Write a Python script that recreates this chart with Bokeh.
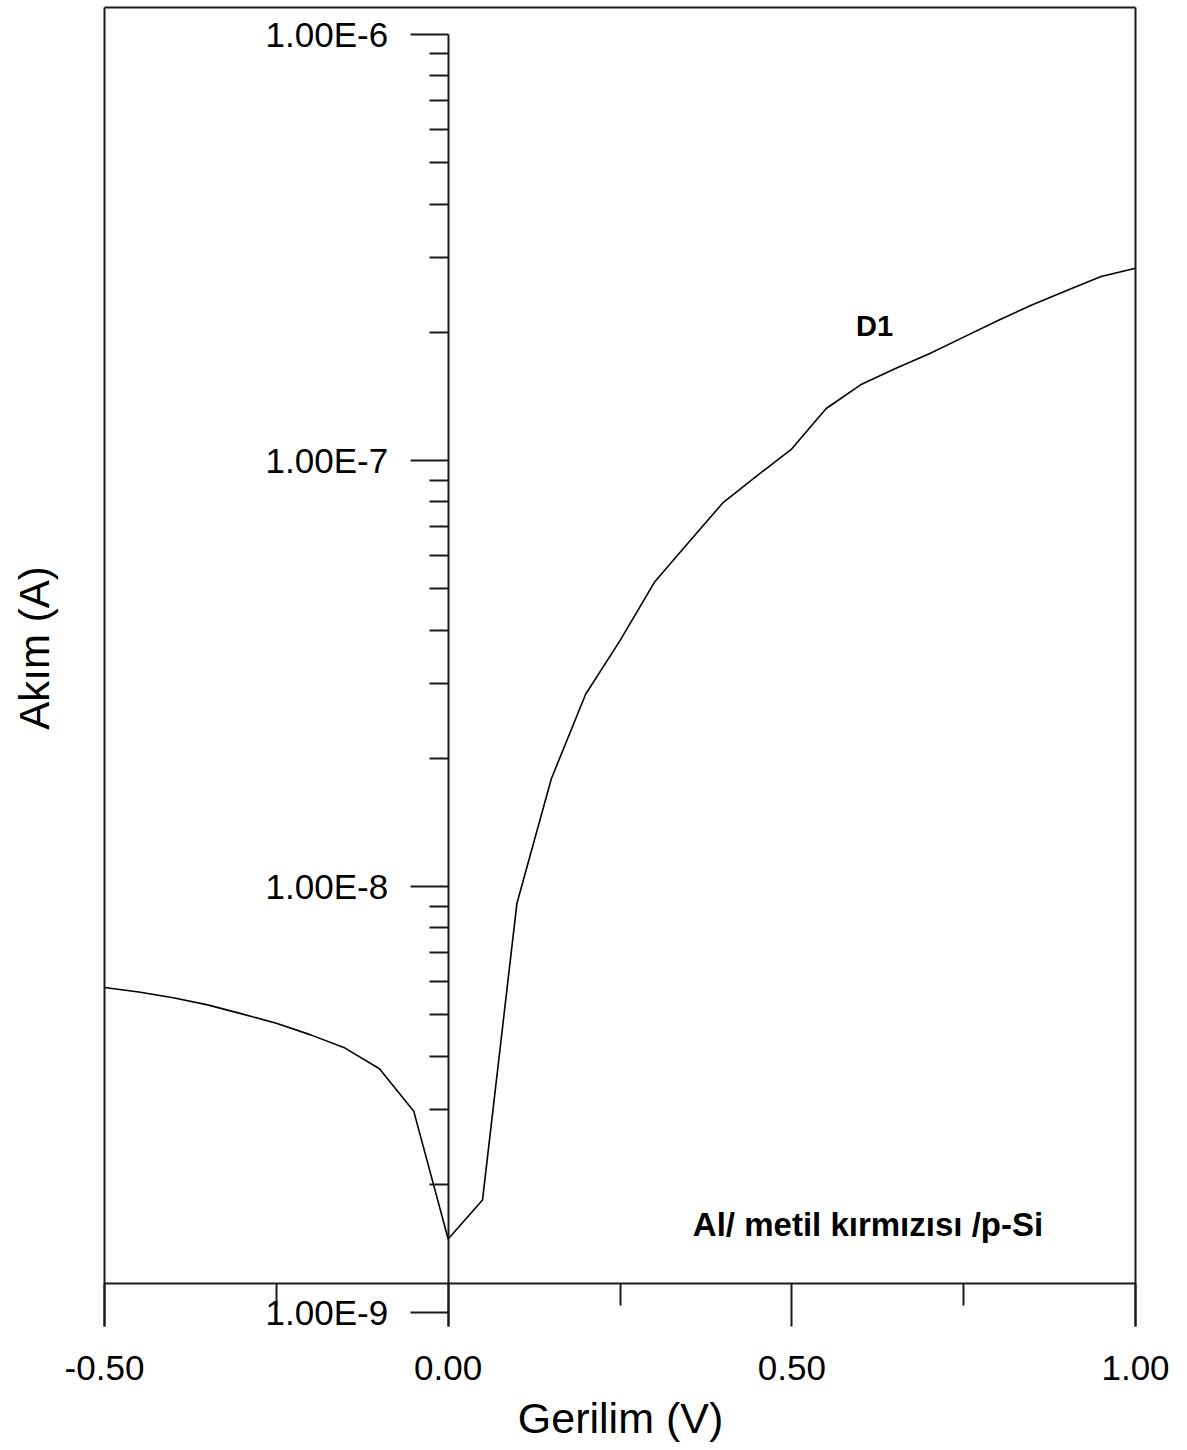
import math
from bokeh.plotting import figure
from bokeh.models import (Range1d, FixedTicker, PrintfTickFormatter, LogScale,
                          CustomJSTickFormatter, Label, LinearAxis, LogAxis)
from bokeh.embed import file_html
from bokeh.resources import INLINE

# ---------------- data ----------------
voltage = [-0.50, -0.45, -0.40, -0.35, -0.30, -0.25, -0.20, -0.15, -0.10, -0.05,
           0.00, 0.05, 0.10, 0.15, 0.20, 0.25, 0.30, 0.35, 0.40, 0.45,
           0.50, 0.55, 0.60, 0.65, 0.70, 0.75, 0.80, 0.85, 0.90, 0.95, 1.00]
current = [5.80e-9, 5.66e-9, 5.49e-9, 5.28e-9, 5.03e-9, 4.78e-9, 4.49e-9, 4.18e-9, 3.74e-9, 2.97e-9,
           1.49e-9, 1.84e-9, 9.13e-9, 1.79e-8, 2.83e-8, 3.78e-8, 5.18e-8, 6.43e-8, 7.97e-8, 9.23e-8,
           1.066e-7, 1.325e-7, 1.506e-7, 1.642e-7, 1.781e-7, 1.949e-7, 2.133e-7, 2.321e-7, 2.507e-7,
           2.704e-7, 2.828e-7]

x_ticks = [-0.50, 0.00, 0.50, 1.00]
x_minor_ticks = [-0.25, 0.25, 0.75]
y_ticks = [1e-9, 1e-8, 1e-7, 1e-6]
y_minor_ticks = [m * 10.0 ** e for e in (-9, -8, -7) for m in range(2, 10)]

x_title = "Gerilim (V)"
y_title = "Akım (A)"
series_name = "D1"
sample_name = "Al/ metil kırmızısı /p-Si"

# ---------------- geometry helpers (pixel -> data) ----------------
FONT = "Liberation Sans"
W, H = 1187, 1450
X_LEFT_PX, X_RIGHT_PX = 104, 1135      # -0.5 .. 1.0
PX_PER_V = (X_RIGHT_PX - X_LEFT_PX) / 1.5
DEC = 426.1                             # pixels per decade
TOP_DEC_PX = 34                         # pixel row of 1e-6


def vx(px):
    return -0.5 + (px - X_LEFT_PX) / PX_PER_V


def logy(py):
    return 10 ** (-6 - (py - TOP_DEC_PX) / DEC)


LINE = "#1a1a1a"

p = figure(frame_width=W, frame_height=H,
           min_border_left=0, min_border_right=0, min_border_top=0, min_border_bottom=0,
           x_range=Range1d(vx(0), vx(W)), y_range=Range1d(logy(H), logy(0)),
           x_axis_type=None, y_axis_type=None,
           output_backend="svg", toolbar_location=None)
p.y_scale = LogScale()

p.background_fill_color = "white"
p.border_fill_color = "white"
p.outline_line_color = None


def no_ticks():
    return FixedTicker(ticks=[], minor_ticks=[])


# frame: left / right sides (extend down as major ticks) and top side
left_frame = LogAxis(fixed_location=-0.5, bounds=(logy(1326), logy(7)), ticker=no_ticks(),
                     axis_line_color=LINE, axis_line_width=2)
right_frame = LogAxis(fixed_location=1.0, bounds=(logy(1326), logy(7)), ticker=no_ticks(),
                      axis_line_color=LINE, axis_line_width=2)
top_frame = LinearAxis(fixed_location=logy(7), bounds=(-0.5, 1.0), ticker=no_ticks(),
                       axis_line_color=LINE, axis_line_width=2)
p.add_layout(left_frame, "left")
p.add_layout(right_frame, "right")
p.add_layout(top_frame, "above")

# x axis (bottom frame line)
xa = LinearAxis(
    fixed_location=logy(1283), bounds=(-0.5, 1.0),
    ticker=FixedTicker(ticks=x_ticks, minor_ticks=x_minor_ticks),
    formatter=PrintfTickFormatter(format="%.2f"),
    axis_line_color=LINE, axis_line_width=2,
    major_tick_in=0, major_tick_out=43, minor_tick_in=0, minor_tick_out=22,
    major_tick_line_color=LINE, minor_tick_line_color=LINE,
    major_tick_line_width=2, minor_tick_line_width=2,
    major_label_standoff=29, major_label_text_font=FONT,
    major_label_text_font_size="35px", major_label_text_color="black")
p.add_layout(xa, "below")

# y axis (at V = 0)
ya = LogAxis(
    fixed_location=0, bounds=(logy(1326), 1e-6),
    ticker=FixedTicker(ticks=y_ticks, minor_ticks=y_minor_ticks),
    formatter=CustomJSTickFormatter(code="return tick.toExponential(2).toUpperCase();"),
    axis_line_color=LINE, axis_line_width=2,
    major_tick_in=0, major_tick_out=38, minor_tick_in=0, minor_tick_out=19,
    major_tick_line_color=LINE, minor_tick_line_color=LINE,
    major_tick_line_width=2, minor_tick_line_width=2,
    major_label_standoff=22, major_label_text_font=FONT,
    major_label_text_font_size="35px", major_label_text_color="black")
p.add_layout(ya, "left")

# axis titles
p.add_layout(Label(x=vx(620), y=logy(1417.5), text=x_title, text_align="center",
                   text_baseline="middle", text_font=FONT, text_font_size="43px",
                   text_color="black"))
p.add_layout(Label(x=vx(34), y=logy(647.5), angle=math.pi / 2,
                   text=y_title, text_align="center", text_baseline="middle",
                   text_font=FONT, text_font_size="42px", text_color="black"))

# curve
p.line(voltage, current, line_color="black", line_width=1.6)

# annotations
p.add_layout(Label(x=vx(874), y=logy(325), text=series_name, text_align="center",
                   text_baseline="middle", text_font=FONT, text_font_size="29px",
                   text_font_style="bold", text_color="black"))
p.add_layout(Label(x=vx(867.5), y=logy(1224), text=sample_name, text_align="center",
                   text_baseline="middle", text_font=FONT, text_font_size="33px",
                   text_font_style="bold", text_color="black"))

open("out.html", "w").write(file_html(p, INLINE))
